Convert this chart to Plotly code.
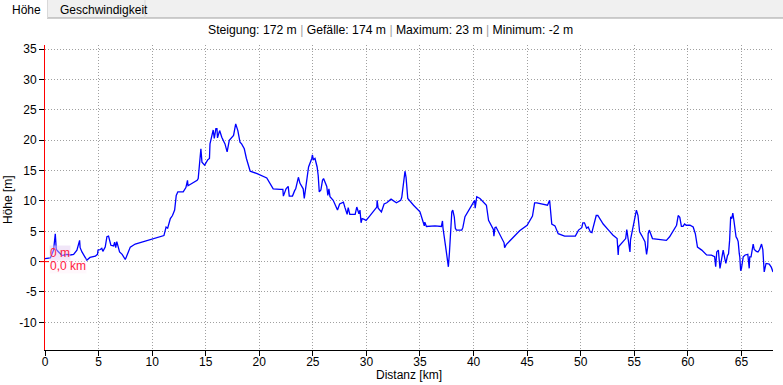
import plotly.graph_objects as go

# ---- data (distance km, height m) ----
abschnitt_00_10 = [(0.0,0.5),(0.5,0.6),(0.8,1.9),(0.96,4.6),(1.0,3.5),(1.05,2.0),(1.27,1.6),(1.6,1.0),
                   (2.0,1.2),(2.36,1.1),(2.67,1.2),(2.98,1.9),(3.23,3.5),(3.28,2.3),(3.45,1.6),(3.9,0.25),
                   (4.2,0.7),(4.7,0.9),(4.9,1.2),(4.95,1.9),(5.16,2.0),(5.3,2.2),(5.4,1.7),(5.62,2.4),
                   (5.78,4.1),(5.93,4.2),(6.15,2.7),(6.4,2.6),(6.5,3.2),(6.6,2.3),(6.7,3.3),(6.96,1.6),
                   (7.2,1.2),(7.49,0.35),(7.6,0.8),(7.96,2.4),(8.42,2.9),(9.82,3.65)]
abschnitt_10_20 = [(10.6,4.1),(11.1,4.3),(11.3,5.7),(11.45,5.5),(11.7,7.1),(11.9,7.6),(12.1,8.5),(12.25,10.9),
                   (12.4,11.5),(12.9,11.5),(13.15,12.2),(13.3,13.4),(13.35,12.5),(13.6,12.8),(14.2,13.4),
                   (14.3,13.7),(14.4,15.3),(14.5,17.0),(14.55,18.6),(14.65,16.4),(14.9,15.9),(15.2,16.8),
                   (15.35,17.0),(15.4,19.4),(15.6,21.1),(15.7,21.7),(15.8,20.3),(15.95,21.9),(16.05,21.9),
                   (16.1,20.4),(16.3,21.6),(16.5,20.5),(16.8,19.4),(17.0,18.1),(17.2,20.0),(17.6,20.8),
                   (17.8,22.7),(18.0,21.6),(18.2,19.7),(18.35,19.4),(18.6,18.6),(18.8,17.0),(19.15,14.9),
                   (19.8,14.5)]
abschnitt_20_30 = [(20.7,13.8),(21.3,12.0),(21.95,11.9),(22.2,11.9),(22.25,10.8),(22.5,12.0),(22.7,12.4),
                   (22.8,10.8),(23.1,10.8),(23.2,11.5),(23.3,11.7),(23.4,12.0),(23.65,13.9),(23.8,12.9),
                   (24.1,12.0),(24.2,10.4),(24.3,11.8),(24.5,14.9),(24.6,15.6),(24.9,17.0),(24.96,17.6),
                   (25.05,16.8),(25.2,17.0),(25.4,15.6),(25.5,14.2),(25.6,11.5),(25.75,11.8),(25.9,13.4),
                   (26.0,13.7),(26.3,12.4),(26.4,10.9),(26.5,12.0),(26.6,10.7),(26.9,10.1),(27.2,8.9),
                   (27.3,8.5),(27.5,9.5),(27.85,9.8),(28.0,8.9),(28.2,7.8),(28.3,8.9),(28.45,7.8),
                   (28.95,7.8),(29.1,9.0),(29.3,7.9),(29.4,8.5),(29.5,6.4),(29.6,7.1),(29.75,7.0),(29.97,6.8)]
abschnitt_30_40 = [(30.3,7.5),(30.97,9.0),(31.0,10.1),(31.1,8.8),(31.4,8.2),(31.65,9.5),(31.9,9.7),
                   (32.3,10.3),(32.8,9.7),(33.2,10.1),(33.3,10.6),(33.4,12.0),(33.55,14.2),(33.6,14.9),
                   (33.7,13.9),(33.75,12.5),(33.86,10.4),(34.4,9.3),(35.0,8.2),(35.3,6.5),(35.4,5.9),
                   (35.45,6.5),(35.6,5.8),(36.4,5.9),(36.9,5.9),(37.0,5.8),(37.1,6.7),(37.15,5.5),
                   (37.4,2.4),(37.6,0.0),(37.65,-0.85),(37.75,1.5),(37.9,5.2),(37.97,8.2),(38.06,8.5),
                   (38.2,7.4),(38.3,5.5),(38.4,5.2),(38.9,5.2),(39.0,5.6),(39.2,7.4),(39.7,9.0)]
abschnitt_40_50 = [(40.1,10.1),(40.15,8.8),(40.3,10.7),(40.6,10.4),(41.2,9.3),(41.4,6.8),(41.85,5.3),
                   (41.9,4.2),(42.0,5.6),(42.1,5.7),(42.5,4.4),(42.85,3.1),(42.9,2.3),(43.05,2.8),
                   (44.3,5.1),(45.0,6.0),(45.5,7.5),(45.7,9.7),(45.9,9.7),(46.5,9.4),(46.9,9.3),
                   (47.1,10.1),(47.15,8.9),(47.2,7.9),(47.3,6.2),(47.6,5.9),(47.75,5.3),(47.9,4.6),
                   (48.5,4.2),(49.5,4.2),(49.8,5.2),(50.1,5.6)]
abschnitt_50_60 = [(50.2,6.4),(50.35,6.4),(50.55,5.5),(50.7,5.7),(50.9,4.9),(51.05,4.8),(51.1,5.2),
                   (51.45,7.6),(51.6,7.6),(51.8,7.1),(52.1,6.2),(52.6,5.2),(53.0,4.4),(53.4,3.8),
                   (53.45,2.2),(53.5,1.1),(53.55,2.5),(54.0,3.3),(54.2,3.8),(54.3,5.3),(54.4,4.1),
                   (54.5,3.3),(54.6,1.6),(54.65,3.6),(54.85,5.5),(55.0,6.8),(55.1,7.9),(55.2,8.5),
                   (55.35,7.6),(55.5,4.9),(55.7,4.3),(56.0,3.3),(56.15,1.2),(56.25,2.4),(56.3,4.6),
                   (56.4,5.2),(56.7,3.8),(57.7,3.5),(58.0,3.5),(58.3,4.1),(58.95,6.0),(59.1,7.6),
                   (59.25,7.3),(59.4,5.8),(59.55,5.8),(59.7,6.2),(59.85,6.0)]
abschnitt_60_68 = [(60.2,6.0),(60.5,5.7),(60.7,4.6),(60.9,2.4),(61.3,1.9),(61.45,1.6),(61.6,1.35),
                   (61.75,1.1),(62.05,1.07),(62.2,1.07),(62.5,0.8),(62.6,-0.85),(62.7,1.6),(62.85,1.9),
                   (63.0,-1.1),(63.15,0.8),(63.3,1.9),(63.45,0.5),(63.55,-0.3),(63.7,1.0),(63.8,1.3),
                   (63.9,3.5),(64.0,7.4),(64.1,7.1),(64.15,7.6),(64.2,8.0),(64.3,6.8),(64.4,4.9),
                   (64.5,4.1),(64.6,3.8),(64.7,3.3),(64.8,1.35),(64.85,0.8),(64.93,-1.5),(65.0,-1.2),
                   (65.17,0.8),(65.35,1.1),(65.6,1.2),(65.73,-1.1),(65.78,0.8),(65.9,0.8),(66.1,2.9),
                   (66.2,2.0),(66.4,1.7),(66.55,1.6),(66.7,2.0),(66.88,2.9),(67.0,2.0),(67.13,-1.7),
                   (67.3,-0.3),(67.6,-0.4),(67.8,-0.95),(67.95,-1.7)]

x_ticks = [0, 5, 10, 15, 20, 25, 30, 35, 40, 45, 50, 55, 60, 65]
y_ticks = [-10, -5, 0, 5, 10, 15, 20, 25, 30, 35]
titel = "Steigung: 172 m | Gefälle: 174 m | Maximum: 23 m | Minimum: -2 m"
tabs = ["Höhe", "Geschwindigkeit"]

profil = (abschnitt_00_10 + abschnitt_10_20 + abschnitt_20_30 + abschnitt_30_40
          + abschnitt_40_50 + abschnitt_50_60 + abschnitt_60_68)
dist = [p[0] for p in profil]
hoehe = [p[1] for p in profil]

W, H = 783, 385
ML, MR, MT, MB = 45, 10, 45, 35
PW, PH = W - ML - MR, H - MT - MB


def px(x):
    return (x - ML) / PW


def py(y):
    return (H - MB - y) / PH


FONT = "Liberation Sans, Arial, sans-serif"
GRID = dict(showgrid=True, gridcolor="#a0a0a0", griddash="1px,2px", gridwidth=1)

fig = go.Figure()
fig.add_trace(go.Scatter(x=dist, y=hoehe, mode="lines",
                         line=dict(color="#0000ff", width=1.3), hoverinfo="skip"))

fig.update_layout(
    width=W, height=H,
    margin=dict(l=ML, r=MR, t=MT, b=MB, pad=0, autoexpand=False),
    paper_bgcolor="white", plot_bgcolor="white",
    showlegend=False,
    font=dict(family=FONT, size=12, color="black"),
    xaxis=dict(range=[0, 67.95], tickvals=x_ticks, ticktext=[str(v) for v in x_ticks], **GRID,
               zeroline=False, showline=True, linecolor="black", linewidth=1,
               ticks="outside", ticklen=5, tickcolor="black", tickwidth=1, automargin=False,
               ticklabelstandoff=-4, tickfont=dict(size=12, family=FONT)),
    yaxis=dict(range=[-14.56, 35.7], tickvals=y_ticks, ticktext=[str(v) for v in y_ticks], **GRID,
               zeroline=False, showline=True, linecolor="red", linewidth=1,
               ticks="outside", ticklen=5, tickcolor="black", tickwidth=1, automargin=False,
               tickfont=dict(size=12, family=FONT)),
)

shapes = [
    # tab strip
    dict(type="rect", xref="paper", yref="paper", x0=px(0), x1=px(W), y0=py(18), y1=py(0),
         fillcolor="#f0f0f0", line=dict(width=0), layer="below"),
    dict(type="rect", xref="paper", yref="paper", x0=px(0), x1=px(47), y0=py(18.5), y1=py(0),
         fillcolor="white", line=dict(width=0), layer="below"),
    dict(type="line", xref="paper", yref="paper", x0=px(47), x1=px(W), y0=py(18), y1=py(18),
         line=dict(color="#a0a0a0", width=1)),
    dict(type="line", xref="paper", yref="paper", x0=px(47.5), x1=px(47.5), y0=py(18), y1=py(0),
         line=dict(color="#d9d9d9", width=1)),
    dict(type="line", xref="paper", yref="paper", x0=px(145), x1=px(145), y0=py(18), y1=py(0),
         line=dict(color="#d9d9d9", width=1)),
    # red zero marker
    dict(type="line", xref="paper", yref="y", x0=px(40), x1=px(49), y0=0, y1=0,
         line=dict(color="red", width=1)),
]
fig.update_layout(shapes=shapes)

sep = ' <span style="color:#a0a0a0">|</span> '
titel_html = sep.join(t.strip() for t in titel.split("|"))

ann = [
    dict(text=tabs[0], x=px(10), y=py(10), xanchor="left", yanchor="middle",
         font=dict(size=12, family=FONT)),
    dict(text=tabs[1], x=px(58), y=py(10), xanchor="left", yanchor="middle",
         font=dict(size=12, family=FONT)),
    dict(text=titel_html, x=px(390), y=py(30), xanchor="center", yanchor="middle",
         font=dict(size=12.2, family=FONT)),
    dict(text="Höhe [m]", x=px(8), y=py(200), xanchor="center", yanchor="middle",
         textangle=-90, font=dict(size=12, family=FONT)),
    dict(text="Distanz [km]", x=px(409), y=py(375), xanchor="center", yanchor="middle",
         font=dict(size=12, family=FONT)),
    dict(text="0 m", x=px(49), y=py(253), xanchor="left", yanchor="middle",
         bgcolor="rgba(225,200,240,0.45)", borderpad=0,
         font=dict(size=12, family=FONT, color="#ff2040")),
    dict(text="0,0 km", x=px(49), y=py(266), xanchor="left", yanchor="middle",
         bgcolor="rgba(255,235,245,0.35)", borderpad=0,
         font=dict(size=12, family=FONT, color="#ff2040")),
]
for a in ann:
    a.update(xref="paper", yref="paper", showarrow=False)
fig.update_layout(annotations=ann)

fig.write_html("out.html", config={"displayModeBar": False},
               post_script="document.body.style.margin='0px';")
